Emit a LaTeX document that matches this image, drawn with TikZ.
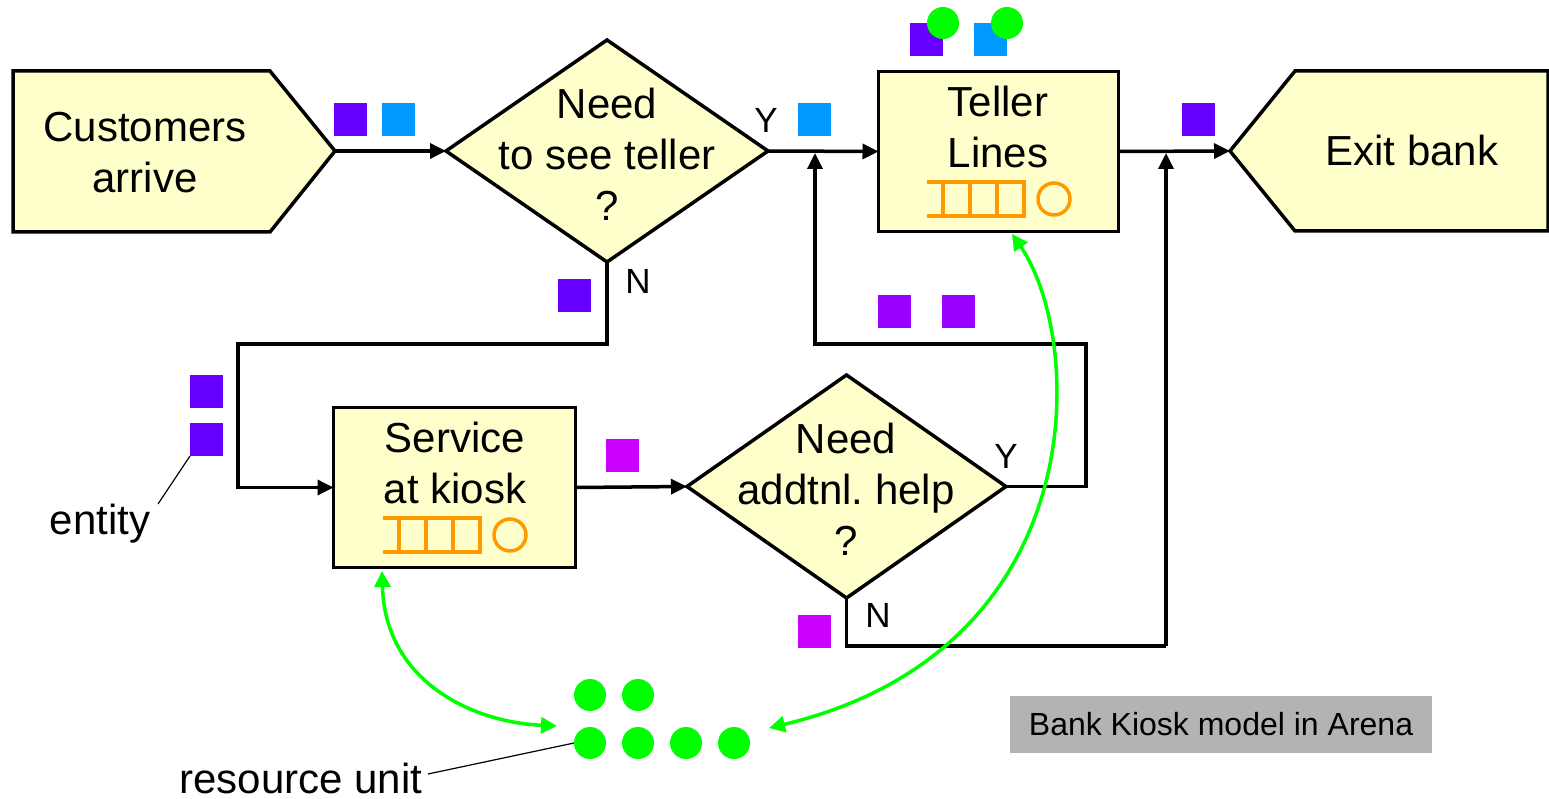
\documentclass[tikz,border=0pt]{standalone}
\usepackage{fontspec}
\setmainfont{Liberation Sans}
\usetikzlibrary{arrows.meta,shapes.geometric}

\definecolor{blockfill}{HTML}{FFFFCC}
\definecolor{entpurple}{HTML}{6600FF}
\definecolor{entblue}{HTML}{0099FF}
\definecolor{entviolet}{HTML}{9900FF}
\definecolor{entmagenta}{HTML}{CC00FF}
\definecolor{resgreen}{HTML}{00FF00}
\definecolor{qorange}{HTML}{FF9900}
\definecolor{notegray}{HTML}{B3B3B3}

\tikzset{
  blockline/.style={draw=black, line width=3.5pt, fill=blockfill, line join=miter},
  procbox/.style={blockline, rectangle, inner sep=0pt, outer sep=0pt},
  decbox/.style={blockline, diamond, inner sep=0pt, outer sep=0pt,
                 minimum width=322pt, minimum height=222pt},
  bigtext/.style={font=\fontsize{42}{51}\selectfont, align=center, inner sep=0pt},
  branchtext/.style={font=\fontsize{35}{40}\selectfont, inner sep=0pt},
  conn/.style={draw=black, line width=3.5pt, line join=miter,
               -{Triangle[length=16pt,width=15pt]}},
  plainconn/.style={draw=black, line width=3.5pt, line join=miter},
  seize/.style={draw=resgreen, line width=3.5pt,
                {Triangle[length=16pt,width=16pt]}-{Triangle[length=16pt,width=16pt]}},
  ent/.style={rectangle, minimum size=33pt, inner sep=0pt, outer sep=0pt},
  unit/.style={circle, fill=resgreen, minimum size=32pt, inner sep=0pt, outer sep=0pt},
  pointer/.style={draw=black, line width=1.2pt},
  qline/.style={draw=qorange, line width=3.5pt},
  queueicon/.pic={
    \draw[qline] (0,0) -- (97,0) -- (97,34) -- (0,34);
    \foreach \qx in {16,43,70} \draw[qline] (\qx,0) -- (\qx,34);
    \draw[qline] (127,17) circle[radius=16];
  }
}

\begin{document}
\begin{tikzpicture}[x=1pt,y=-1pt]
\useasboundingbox (0,0) rectangle (1549,799);

% --- Create block (arrivals) and Dispose block (exit)
\draw[blockline] (13,71) -- (270,71) -- (335,151) -- (270,232) -- (13,232) -- cycle;
\coordinate (arrout) at (335,151);
\node[bigtext] (arrtxt) at (145,153) {Customers\\arrive};

\draw[blockline] (1548,71) -- (1295,71) -- (1230,151) -- (1295,231) -- (1548,231) -- cycle;
\coordinate (exitin) at (1230,151);
\node[bigtext] (exittxt) at (1412,150) {Exit bank};

% --- Decide blocks
\node[decbox] (d1) at (607,151) {};
\node[bigtext] (d1txt) at (607,154) {Need\\to see teller\\?};
\node[decbox, minimum width=319pt, minimum height=223pt] (d2) at (846.5,486.5) {};
\node[bigtext] (d2txt) at (846,489) {Need\\addtnl.\ help\\?};

% --- Process blocks
\node[procbox, minimum width=240pt, minimum height=160pt] (teller) at (998.5,151.5) {};
\node[bigtext] (tellertxt) at (998,127) {Teller\\Lines};
\pic at (927,182) {queueicon};

\node[procbox, minimum width=242pt, minimum height=160pt] (kiosk) at (454.5,487.5) {};
\node[bigtext] (kiosktxt) at (455,463) {Service\\at kiosk};
\pic at (383,518) {queueicon};

% --- Junction points
\coordinate (leftturn) at (238,344);
\coordinate (loopturn) at (1086,344);
\coordinate (merge1) at (815,153);
\coordinate (bottomturn) at (1166,646);
\coordinate (merge2) at (1166,153);

% --- Connectors
\draw[conn] (arrout) -- (d1.west);
\draw[conn] (d1.east) -- (teller.west);
\draw[conn] (teller.east) -- (exitin);
\draw[conn] (d1.south) |- (leftturn) |- (kiosk.west);
\draw[conn] (kiosk.east) -- (d2.west);
\draw[conn] (d2.east) -| (loopturn) -| (merge1);
\draw[plainconn] (d2.south) |- (bottomturn);
\draw[conn] (bottomturn) -- (merge2);

% --- Branch labels
\node[branchtext] (y1) at (766,120) {Y};
\node[branchtext] (n1) at (638,281) {N};
\node[branchtext] (y2) at (1006,456) {Y};
\node[branchtext] (n2) at (878,615) {N};

% --- Entities on the flow
\node[ent, fill=entpurple] (e1) at (350.5,119.5) {};
\node[ent, fill=entblue] (e2) at (398.5,119.5) {};
\node[ent, fill=entblue] (e3) at (814.5,120) {};
\node[ent, fill=entpurple] (e4) at (926.5,39.5) {};
\node[unit] (s1) at (943,23) {};
\node[ent, fill=entblue] (e5) at (990.5,39.5) {};
\node[unit] (s2) at (1007,23) {};
\node[ent, fill=entpurple] (e6) at (1198.5,119.5) {};
\node[ent, fill=entpurple] (e7) at (574.5,295.5) {};
\node[ent, fill=entviolet] (e8) at (894.5,311.5) {};
\node[ent, fill=entviolet] (e9) at (958.5,311.5) {};
\node[ent, fill=entpurple] (e10) at (206.5,391.5) {};
\node[ent, fill=entpurple] (e11) at (206.5,439.5) {};
\node[ent, fill=entmagenta] (e12) at (622.5,455.5) {};
\node[ent, fill=entmagenta] (e13) at (814.5,631.5) {};

% --- Resource units
\node[unit] (u1) at (590,695) {};
\node[unit] (u2) at (638,695) {};
\node[unit] (u3) at (590,743) {};
\node[unit] (u4) at (638,743) {};
\node[unit] (u5) at (686,743) {};
\node[unit] (u6) at (734,743) {};

\coordinate (seizeA) at (382,571);
\coordinate (poolA) at (557,726);
\coordinate (seizeB) at (1012,234);
\coordinate (poolB) at (769,728);
\draw[seize] (seizeA) .. controls (385,680) and (470,722) .. (poolA);
\draw[seize] (seizeB) .. controls (1085,340) and (1095,650) .. (poolB);

% --- Annotations
\node[bigtext] (entlbl) at (100,524) {entity};
\coordinate (entlblend) at (158,504);
\draw[pointer] (e11.south west) -- (entlblend);
\node[bigtext] (reslbl) at (301,778) {resource unit};
\coordinate (reslblend) at (428,774);
\draw[pointer] (reslblend) -- (u3.west);

\node[fill=notegray, minimum width=422pt, minimum height=57pt, inner sep=0pt,
      font=\fontsize{32}{38}\selectfont] (note) at (1221,724) {Bank Kiosk model in Arena};
\end{tikzpicture}
\end{document}
